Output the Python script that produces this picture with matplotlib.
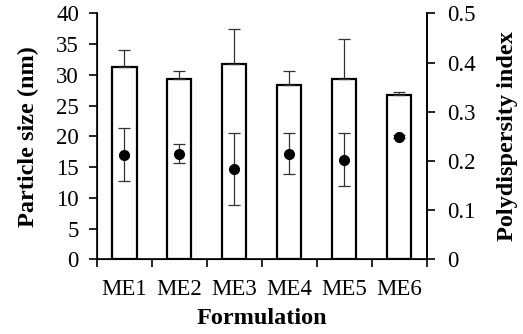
import matplotlib
matplotlib.use("Agg")
import matplotlib.pyplot as plt
import numpy as np

categories = ["ME1", "ME2", "ME3", "ME4", "ME5", "ME6"]
size_nm = [31.3, 29.3, 31.7, 28.3, 29.3, 26.7]
size_err = [2.7, 1.4, 5.8, 2.4, 6.5, 0.5]
pdi = [0.213, 0.215, 0.184, 0.215, 0.202, 0.249]
pdi_err = [0.054, 0.019, 0.073, 0.042, 0.054, 0.003]

plt.rcParams['font.family'] = ['Liberation Serif', 'DejaVu Serif']

fig = plt.figure(figsize=(5.23, 3.34), dpi=100)
ax = fig.add_axes([0.1855, 0.2237, 0.63, 0.7363])
x = np.arange(len(categories))

ax.bar(x, size_nm, width=0.44, color='white', edgecolor='black', linewidth=1.6, zorder=2)
ax.errorbar(x, size_nm, yerr=[np.zeros(len(size_err)), size_err], fmt='none',
            ecolor='#333333', elinewidth=0.9, capsize=4, capthick=0.9, zorder=3)
ax.set_xlim(-0.5, len(categories) - 0.5)
ax.set_ylim(0, 40)
ax.set_yticks(np.arange(0, 41, 5))
ax.set_xticks(np.arange(-0.5, len(categories), 1.0))
ax.set_xticklabels([])
ax.set_xticks(x, minor=True)
ax.set_xticklabels(categories, minor=True)
ax.tick_params(axis='x', which='major', direction='out', length=6, width=1.2)
ax.tick_params(axis='x', which='minor', length=0, labelsize=16.5, pad=14)
ax.tick_params(axis='y', direction='out', length=6, width=1.2, labelsize=16.5, pad=7)
for s in ['left', 'bottom', 'right']:
    ax.spines[s].set_linewidth(1.2)
ax.spines['top'].set_visible(False)
ax.set_ylabel("Particle size (nm)", fontsize=17.5, fontweight='bold', labelpad=12)
ax.set_xlabel("Formulation", fontsize=17.5, fontweight='bold', labelpad=6)

ax2 = ax.twinx()
ax2.errorbar(x, pdi, yerr=pdi_err, fmt='o', color='black', markersize=7,
             ecolor='#333333', elinewidth=0.9, capsize=4, capthick=0.9, zorder=4)
ax2.set_ylim(0, 0.5)
ax2.set_yticks([0, 0.1, 0.2, 0.3, 0.4, 0.5])
ax2.set_yticklabels(["0", "0.1", "0.2", "0.3", "0.4", "0.5"])
ax2.tick_params(axis='y', direction='out', length=6, width=1.2, labelsize=16.5, pad=9)
ax2.spines['top'].set_visible(False)
ax2.spines['right'].set_linewidth(1.2)
ax2.set_ylabel("Polydispersity index", fontsize=17.5, fontweight='bold', labelpad=15)

fig.savefig("out.png", dpi=100)
